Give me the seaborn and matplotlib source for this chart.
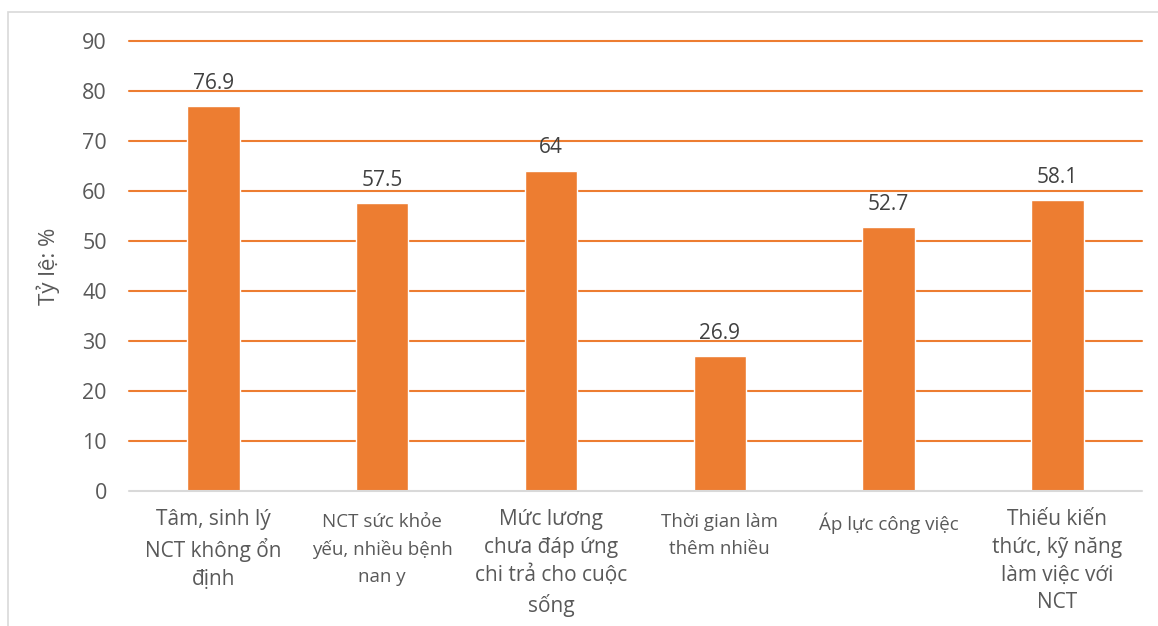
import pandas as pd
import seaborn as sns
import matplotlib.pyplot as plt
from matplotlib.patches import Rectangle

categories = ['Tâm, sinh lý\nNCT không ổn\nđịnh',
              'NCT sức khỏe\nyếu, nhiều bệnh\nnan y',
              'Mức lương\nchưa đáp ứng\nchi trả cho cuộc\nsống',
              'Thời gian làm\nthêm nhiều',
              'Áp lực công việc',
              'Thiếu kiến\nthức, kỹ năng\nlàm việc với\nNCT']
values = [76.9, 57.5, 64, 26.9, 52.7, 58.1]
value_labels = ['76.9', '57.5', '64', '26.9', '52.7', '58.1']
label_sizes = [15, 13.5, 15, 13.5, 13.5, 15]
line_gaps = [1.42, 1.62, 1.42, 1.62, 1.62, 1.42]

df = pd.DataFrame({'cat': categories, 'val': values})

sns.set_theme(style='white')
plt.rcParams['font.family'] = ['Open Sans', 'DejaVu Sans']

orange = '#ED7D31'
gray = '#595959'

fig = plt.figure(figsize=(11.58, 6.26), dpi=100)
ax = fig.add_axes([0.1114, 0.2157, 0.8746, 0.7188])
fig.patches.append(Rectangle((8 / 1158, -0.1), 1.2, 1 - 12 / 626 + 0.1,
                             transform=fig.transFigure, fill=False,
                             edgecolor='#d9d9d9', linewidth=1.2))

sns.barplot(data=df, x='cat', y='val', color=orange, saturation=1, width=0.31, ax=ax, zorder=3)

ax.set_ylim(0, 90)
ax.set_yticks(range(0, 91, 10))
ax.set_xlim(-0.5, 5.5)
for y in range(10, 91, 10):
    ax.axhline(y, color=orange, linewidth=1.5, zorder=1, clip_on=False)
ax.axhline(0, color='#d9d9d9', linewidth=1.5, zorder=4, clip_on=False)

for i, (v, t) in enumerate(zip(values, value_labels)):
    ax.text(i, v + 3.5, t, ha='center', va='baseline', fontsize=15, color='#404040')

ax.set_xticks(range(len(categories)))
ax.set_xticklabels([])
for i, (c, s, g) in enumerate(zip(categories, label_sizes, line_gaps)):
    top = -3.6 if s > 14 else -4.4
    ax.text(i, top, c, ha='center', va='top', fontsize=s, color=gray,
            linespacing=g)

ax.tick_params(axis='y', labelsize=15.5, colors=gray, length=0, pad=16)
ax.tick_params(axis='x', length=0)
for s in ax.spines.values():
    s.set_visible(False)
ax.set_xlabel('')
ax.set_ylabel('Tỷ lệ: %', fontsize=16, color=gray, labelpad=16)

fig.savefig('out.png', dpi=100)
